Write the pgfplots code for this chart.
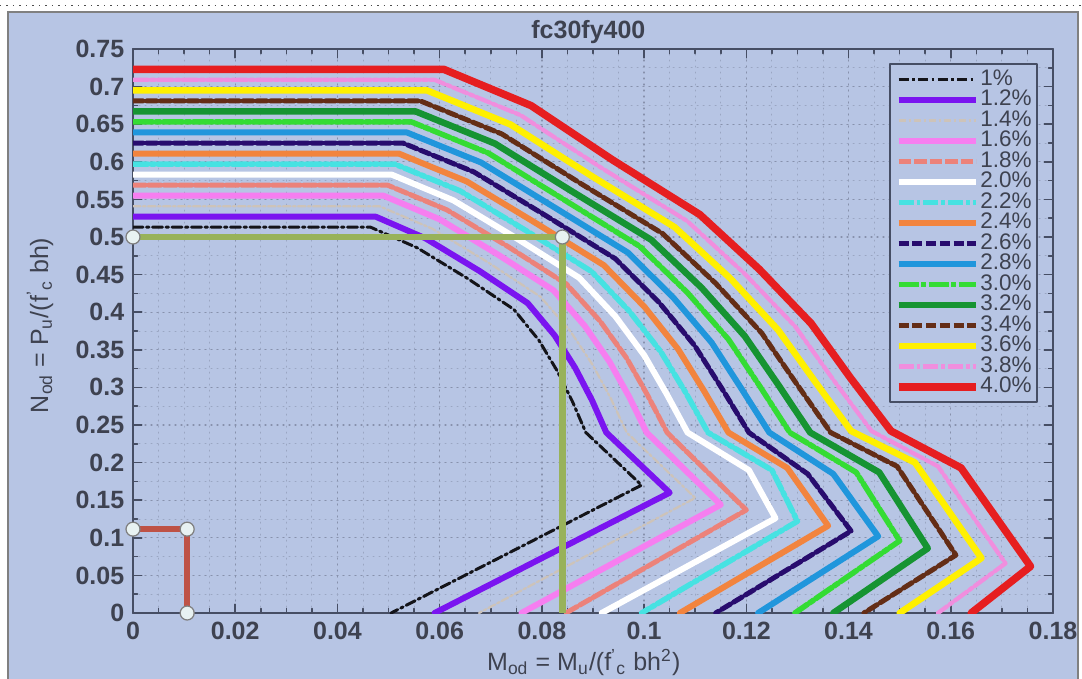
\documentclass[border=0pt]{standalone}
\usepackage{fontspec}
\setmainfont{Liberation Sans}
\usepackage{pgfplots}
\pgfplotsset{compat=1.18}
\definecolor{panel}{RGB}{183,197,228}
\definecolor{axisgray}{RGB}{70,78,100}
\definecolor{labelgray}{RGB}{62,66,80}
\definecolor{gridc}{RGB}{135,145,172}
\definecolor{c1}{RGB}{20,20,25}
\definecolor{c2}{RGB}{122,20,240}
\definecolor{c3}{RGB}{205,195,185}
\definecolor{c4}{RGB}{246,126,240}
\definecolor{c5}{RGB}{236,130,122}
\definecolor{c6}{RGB}{255,255,255}
\definecolor{c7}{RGB}{70,226,226}
\definecolor{c8}{RGB}{242,132,62}
\definecolor{c9}{RGB}{40,12,110}
\definecolor{c10}{RGB}{32,150,220}
\definecolor{c11}{RGB}{52,220,52}
\definecolor{c12}{RGB}{22,148,50}
\definecolor{c13}{RGB}{100,45,22}
\definecolor{c14}{RGB}{255,240,0}
\definecolor{c15}{RGB}{240,142,222}
\definecolor{c16}{RGB}{230,30,32}
\definecolor{guidegreen}{RGB}{152,178,90}
\definecolor{guidered}{RGB}{190,82,70}
\definecolor{circfill}{RGB}{232,242,242}
\begin{document}
\begin{tikzpicture}
\useasboundingbox (-53.2pt,-26pt) rectangle (379.6pt,245.2pt);
\fill[white] (-53.2pt,-26pt) rectangle (379.6pt,245.2pt);
\draw[black!70, dotted, line width=0.6pt] (-53.2pt,243pt) -- (379.6pt,243pt);
\fill[panel] (-50pt,-30pt) rectangle (378pt,240.4pt);
\draw[gray, line width=0.8pt] (-50pt,-30pt) rectangle (378pt,240.4pt);
\begin{axis}[
  at={(0pt,0pt)}, anchor=south west,
  scale only axis, width=368pt, height=225.6pt,
  xmin=0, xmax=0.18, ymin=0, ymax=0.75,
  xtick={0,0.02,0.04,0.06,0.08,0.1,0.12,0.14,0.16,0.18},
  ytick={0,0.05,0.1,0.15,0.2,0.25,0.3,0.35,0.4,0.45,0.5,0.55,0.6,0.65,0.7,0.75},
  scaled ticks=false,
  /pgf/number format/fixed, /pgf/number format/precision=2,
  /pgf/number format/assume math mode=true,
  tick label style={font=\bfseries\fontsize{10}{12}\selectfont, text=labelgray},
  axis background/.style={fill=panel},
  grid=both,
  major grid style={dotted, draw=gridc, line width=0.5pt},
  minor grid style={dotted, draw=gridc!60!panel, line width=0.4pt},
  minor x tick num=3, minor y tick num=1,
  tick align=inside,
  major tick length=3.5pt, minor tick length=1.8pt,
  every tick/.style={draw=axisgray, line width=0.6pt},
  axis line style={draw=axisgray, line width=0.9pt},
  clip mode=individual,
  line join=round, line cap=round,
  xlabel={M\textsubscript{od} = M\textsubscript{u}/(f\textsuperscript{'}\textsubscript{c} bh\textsuperscript{2})},
  xlabel style={at={(axis description cs:0.49,-0.088)}, anchor=center, font=\fontsize{10}{12}\selectfont, text=labelgray},
  ylabel={N\textsubscript{od} = P\textsubscript{u}/(f\textsuperscript{'}\textsubscript{c} bh)},
  ylabel style={at={(axis description cs:-0.101,0.51)}, anchor=center, font=\fontsize{10}{12}\selectfont, text=labelgray},
  legend cell align=left,
  legend image code/.code={\draw[#1] (6pt,0pt) -- (37pt,0pt);},
  legend style={at={(0.984,0.975)}, anchor=north east, fill=panel, draw=axisgray, line width=0.9pt,
    font=\fontsize{9}{9}\selectfont, text=labelgray, row sep=0pt, inner xsep=2pt, inner ysep=2pt,
    nodes={text height=6.2pt, text depth=1.6pt, inner sep=0.2pt}},
]
\addplot[c1, line width=1.2pt, dash pattern=on 4pt off 1.4pt on 1pt off 1.4pt] coordinates {(0,0.513) (0.0465,0.513) (0.0556,0.4857) (0.0655,0.4447) (0.0745,0.4038) (0.0794,0.3628) (0.0830,0.3219) (0.0860,0.2809) (0.0886,0.24) (0.0995,0.170) (0.0505,0)};
\addlegendentry{1\%}
\addplot[c2, line width=2.4pt] coordinates {(0,0.527) (0.0475,0.527) (0.0572,0.4983) (0.0677,0.4552) (0.0772,0.4122) (0.0825,0.3691) (0.0865,0.3261) (0.0898,0.283) (0.0926,0.24) (0.105,0.160) (0.059,0)};
\addlegendentry{1.2\%}
\addplot[c3, line width=0.9pt, dash pattern=on 3pt off 1pt on 1pt off 1pt] coordinates {(0,0.541) (0.0482,0.541) (0.0586,0.5109) (0.0696,0.4657) (0.0797,0.4206) (0.0855,0.3754) (0.0899,0.3303) (0.0935,0.2851) (0.0966,0.24) (0.110,0.153) (0.0677,0)};
\addlegendentry{1.4\%}
\addplot[c4, line width=2.4pt] coordinates {(0,0.555) (0.049,0.555) (0.0600,0.5235) (0.0715,0.4762) (0.0823,0.429) (0.0884,0.3817) (0.0932,0.3345) (0.0971,0.2872) (0.1005,0.24) (0.115,0.144) (0.076,0)};
\addlegendentry{1.6\%}
\addplot[c5, line width=2pt, dash pattern=on 5pt off 1.2pt] coordinates {(0,0.569) (0.0498,0.569) (0.0614,0.5361) (0.0735,0.4867) (0.0848,0.4374) (0.0914,0.388) (0.0966,0.3387) (0.1007,0.2893) (0.1045,0.24) (0.120,0.137) (0.0847,0)};
\addlegendentry{1.8\%}
\addplot[c6, line width=2.4pt] coordinates {(0,0.583) (0.0506,0.583) (0.0627,0.5487) (0.0753,0.4972) (0.0873,0.4458) (0.0944,0.3943) (0.1000,0.3429) (0.1044,0.2914) (0.1085,0.24) (0.1205,0.19) (0.1257,0.126) (0.0917,0)};
\addlegendentry{2.0\%}
\addplot[c7, line width=2.2pt, dash pattern=on 6pt off 1.2pt on 1.5pt off 1.2pt] coordinates {(0,0.597) (0.0512,0.597) (0.0640,0.5613) (0.0771,0.5077) (0.0897,0.4542) (0.0972,0.4006) (0.1033,0.3471) (0.1081,0.2935) (0.1125,0.24) (0.125,0.19) (0.130,0.122) (0.0995,0)};
\addlegendentry{2.2\%}
\addplot[c8, line width=2.4pt] coordinates {(0,0.611) (0.052,0.611) (0.0653,0.5739) (0.0789,0.5182) (0.0921,0.4626) (0.1001,0.4069) (0.1066,0.3513) (0.1117,0.2956) (0.1165,0.24) (0.128,0.193) (0.136,0.116) (0.107,0)};
\addlegendentry{2.4\%}
\addplot[c9, line width=2pt, dash pattern=on 4pt off 1.5pt] coordinates {(0,0.625) (0.0528,0.625) (0.0667,0.5865) (0.0807,0.5287) (0.0944,0.471) (0.1029,0.4132) (0.1099,0.3555) (0.1153,0.2977) (0.1205,0.24) (0.132,0.185) (0.1405,0.109) (0.114,0)};
\addlegendentry{2.6\%}
\addplot[c10, line width=2.4pt] coordinates {(0,0.639) (0.0536,0.639) (0.0681,0.5991) (0.0825,0.5392) (0.0968,0.4794) (0.1057,0.4195) (0.1132,0.3597) (0.1189,0.2998) (0.1245,0.24) (0.137,0.185) (0.1458,0.102) (0.1223,0)};
\addlegendentry{2.8\%}
\addplot[c11, line width=2.2pt, dash pattern=on 8pt off 1pt on 2pt off 1pt] coordinates {(0,0.653) (0.0545,0.653) (0.0695,0.6117) (0.0843,0.5497) (0.0991,0.4878) (0.1085,0.4258) (0.1165,0.3639) (0.1226,0.3019) (0.1285,0.24) (0.1415,0.187) (0.150,0.096) (0.1295,0)};
\addlegendentry{3.0\%}
\addplot[c12, line width=2.6pt] coordinates {(0,0.667) (0.0553,0.667) (0.0708,0.6243) (0.0860,0.5602) (0.1014,0.4962) (0.1113,0.4321) (0.1197,0.3681) (0.1262,0.304) (0.1325,0.24) (0.146,0.187) (0.1555,0.086) (0.137,0)};
\addlegendentry{3.2\%}
\addplot[c13, line width=2pt, dash pattern=on 4pt off 1.5pt] coordinates {(0,0.681) (0.0562,0.681) (0.0722,0.6369) (0.0877,0.5707) (0.1036,0.5046) (0.1140,0.4384) (0.1230,0.3723) (0.1297,0.3061) (0.1365,0.24) (0.1495,0.195) (0.161,0.077) (0.143,0)};
\addlegendentry{3.4\%}
\addplot[c14, line width=2.6pt] coordinates {(0,0.695) (0.0575,0.695) (0.0739,0.6495) (0.0897,0.5812) (0.1060,0.513) (0.1169,0.4447) (0.1262,0.3765) (0.1334,0.3082) (0.1405,0.242) (0.153,0.2) (0.166,0.073) (0.150,0)};
\addlegendentry{3.6\%}
\addplot[c15, line width=1.7pt, dash pattern=on 6pt off 1.2pt on 1.5pt off 1.2pt] coordinates {(0,0.709) (0.059,0.709) (0.0758,0.6621) (0.0917,0.5917) (0.1084,0.5214) (0.1197,0.451) (0.1296,0.3807) (0.1370,0.3103) (0.1445,0.242) (0.1575,0.195) (0.1707,0.066) (0.1575,0)};
\addlegendentry{3.8\%}
\addplot[c16, line width=3pt] coordinates {(0,0.723) (0.0608,0.723) (0.0779,0.6747) (0.0939,0.6022) (0.1109,0.5298) (0.1225,0.4573) (0.1327,0.3849) (0.1404,0.3124) (0.1483,0.242) (0.162,0.193) (0.1756,0.062) (0.164,0)};
\addlegendentry{4.0\%}
% guide lines
\addplot[guidegreen, line width=2.6pt, line cap=butt, forget plot] coordinates {(0,0.5) (0.084,0.5) (0.084,0)};
\addplot[only marks, mark=*, mark size=2.8pt, mark options={fill=circfill, draw=gray, line width=0.5pt}, forget plot] coordinates {(0,0.5) (0.084,0.5)};
\addplot[guidered, line width=2.4pt, line cap=butt, forget plot] coordinates {(0,0.1115) (0.0106,0.1115) (0.0106,0)};
\addplot[only marks, mark=*, mark size=2.8pt, mark options={fill=circfill, draw=gray, line width=0.5pt}, forget plot] coordinates {(0,0.1115) (0.0106,0.1115) (0.0106,0)};
\node[font=\bfseries\fontsize{10}{12}\selectfont, text=labelgray, anchor=center] at (axis description cs:0.495,1.03) {fc30fy400};
\end{axis}
\end{tikzpicture}
\end{document}
